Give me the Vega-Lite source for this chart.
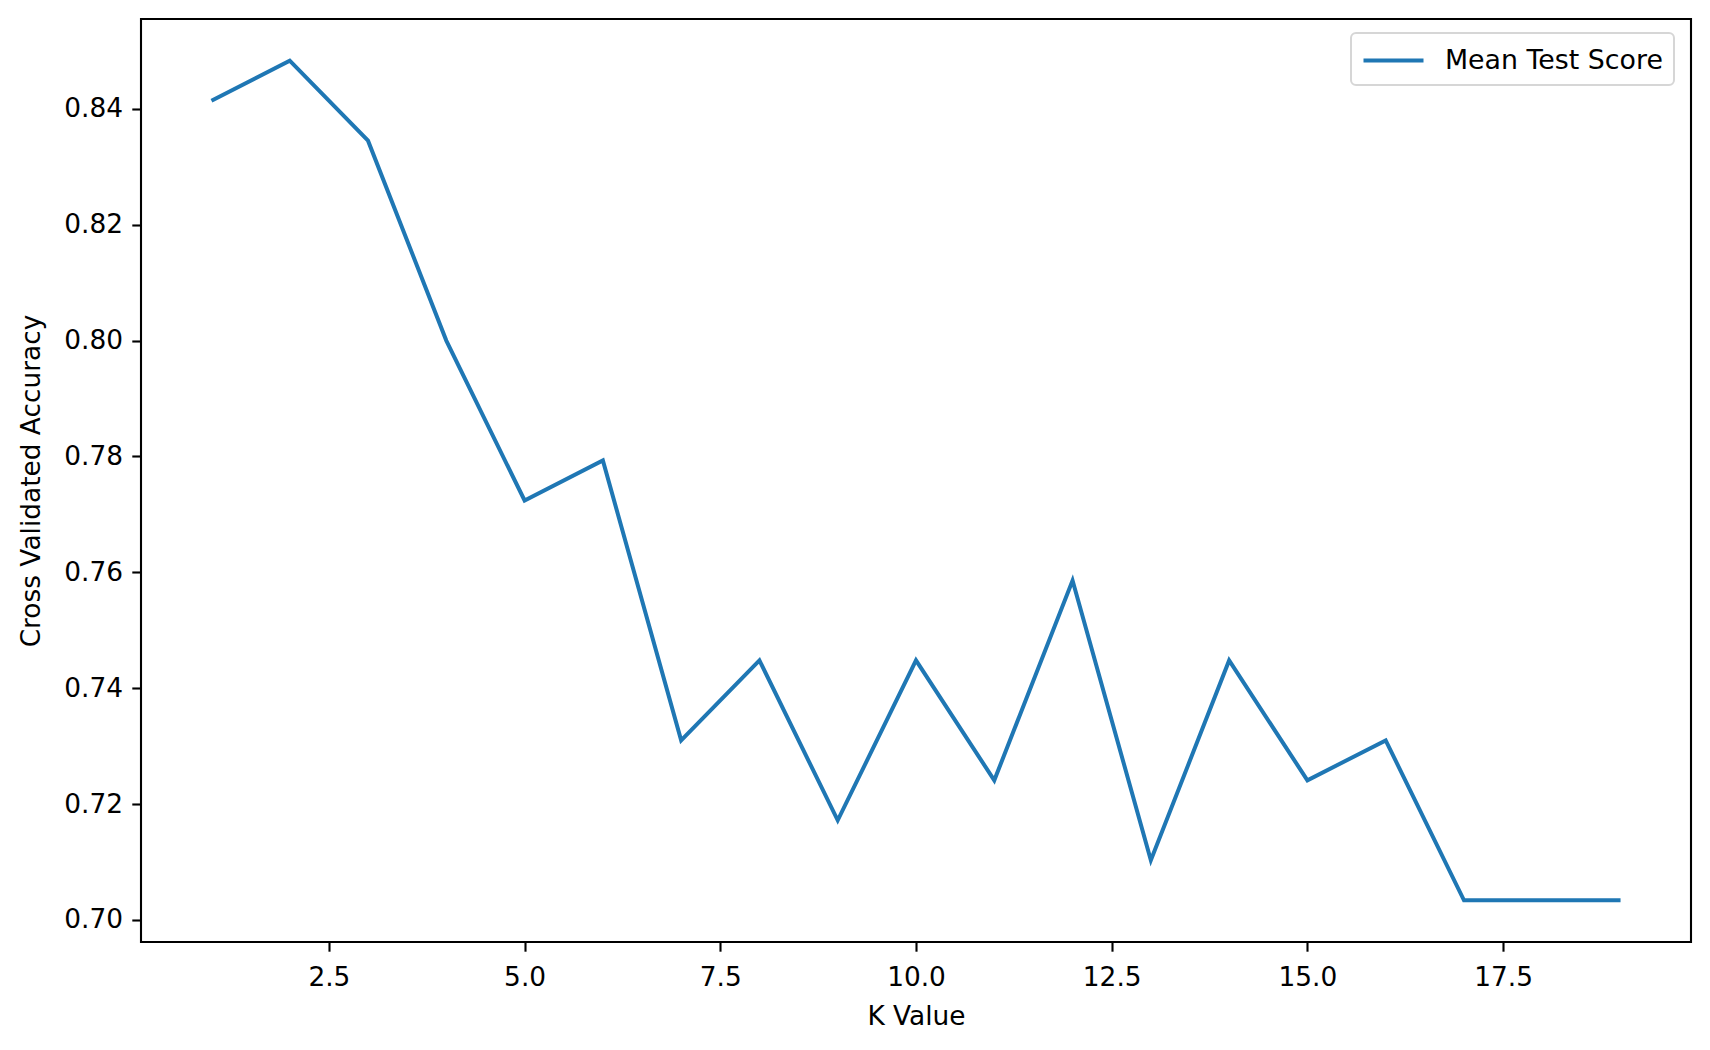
{
  "$schema": "https://vega.github.io/schema/vega-lite/v6.json",
  "autosize": {"type": "none"},
  "width": 1550,
  "height": 923,
  "padding": {"left": 141, "top": 19, "right": 19, "bottom": 108},
  "background": "white",
  "config": {
    "font": "DejaVu Sans",
    "view": {"stroke": "black", "strokeWidth": 2.1},
    "axis": {
      "domain": false,
      "grid": false,
      "tickColor": "black",
      "tickWidth": 2.1,
      "tickSize": 9.2,
      "labelPadding": 9.2,
      "labelFontSize": 26.4,
      "labelColor": "black",
      "titleFontSize": 26.4,
      "titleFontWeight": "normal",
      "titleColor": "black"
    },
    "legend": {"strokeWidth": 2}
  },
  "data": {
    "values": [
      {"k": 1, "score": 0.8414},
      {"k": 2, "score": 0.8483},
      {"k": 3, "score": 0.8345},
      {"k": 4, "score": 0.8000},
      {"k": 5, "score": 0.7724},
      {"k": 6, "score": 0.7793},
      {"k": 7, "score": 0.7310},
      {"k": 8, "score": 0.7448},
      {"k": 9, "score": 0.7172},
      {"k": 10, "score": 0.7448},
      {"k": 11, "score": 0.7241},
      {"k": 12, "score": 0.7586},
      {"k": 13, "score": 0.7103},
      {"k": 14, "score": 0.7448},
      {"k": 15, "score": 0.7241},
      {"k": 16, "score": 0.7310},
      {"k": 17, "score": 0.7034},
      {"k": 18, "score": 0.7034},
      {"k": 19, "score": 0.7034}
    ]
  },
  "mark": {"type": "line", "strokeWidth": 4},
  "encoding": {
    "x": {
      "field": "k",
      "type": "quantitative",
      "title": "K Value",
      "scale": {"domain": [0.1, 19.9], "nice": false, "zero": false},
      "axis": {"values": [2.5, 5, 7.5, 10, 12.5, 15, 17.5], "format": ".1f", "labelPadding": 13, "titlePadding": 13}
    },
    "y": {
      "field": "score",
      "type": "quantitative",
      "title": "Cross Validated Accuracy",
      "scale": {"domain": [0.6962, 0.8555], "nice": false, "zero": false},
      "axis": {"values": [0.70, 0.72, 0.74, 0.76, 0.78, 0.80, 0.82, 0.84], "format": ".2f", "titlePadding": 18}
    },
    "color": {
      "datum": "Mean Test Score",
      "type": "nominal",
      "scale": {"range": ["#1f77b4"]},
      "legend": {
        "title": null,
        "orient": "none",
        "legendX": 1210,
        "legendY": 14,
        "symbolType": "M-1,0H3",
        "symbolSize": 900,
        "symbolStrokeWidth": 4,
        "labelFontSize": 26.8,
        "labelColor": "black",
        "labelLimit": 0,
        "labelOffset": 49.5,
        "padding": 10.5,
        "strokeColor": "#d6d6d6",
        "cornerRadius": 5,
        "fillColor": "white"
      }
    }
  }
}
